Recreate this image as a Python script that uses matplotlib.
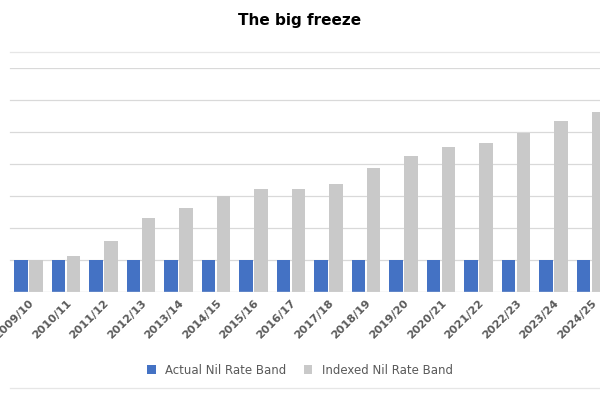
import matplotlib
matplotlib.use("Agg")
import matplotlib.pyplot as plt
import numpy as np

years = ["2009/10", "2010/11", "2011/12", "2012/13", "2013/14", "2014/15", "2015/16",
         "2016/17", "2017/18", "2018/19", "2019/20", "2020/21", "2021/22", "2022/23",
         "2023/24", "2024/25", "2025/26"]
actual = [325] * 17
indexed = [325, 366, 518, 751, 853, 975, 1046, 1046, 1097, 1259, 1381, 1473, 1513,
           1615, 1737, 1828, 1900]

blue = "#4472C4"
grey = "#C9C9C9"

fig = plt.figure(figsize=(6, 4), dpi=100)
ax = fig.add_axes([0, 0.27, 1, 0.56])
x = np.arange(len(years))
ax.bar(x - 0.2, actual, width=0.35, color=blue, label="Actual Nil Rate Band", zorder=3)
ax.bar(x + 0.2, indexed, width=0.35, color=grey, label="Indexed Nil Rate Band", zorder=3)

for v in np.arange(325, 2276, 325):
    ax.axhline(v, xmin=10 / 600, color="#D9D9D9", lw=0.9, zorder=1)
ax.axhline(0, xmin=10 / 600, color="#D9D9D9", lw=1, zorder=4)

for s in ax.spines.values():
    s.set_visible(False)
ax.set_yticks([])
ax.set_xticks(x)
ax.set_xticklabels(years, rotation=45, ha="right", rotation_mode="anchor",
                   fontsize=8, fontweight="bold", color="#595959")
ax.tick_params(axis="x", length=0, pad=4)
ax.margins(0)
ax.set_xlim(-0.76, 15.24)
ax.set_ylim(0, 2275)

fig.text(0.5, 0.95, "The big freeze", ha="center", va="center", fontsize=11,
         fontweight="bold", color="#000000")
fig.legend(loc="center", bbox_to_anchor=(0.5, 0.075), ncol=2, frameon=False,
           fontsize=8.5, handlelength=0.7, handleheight=0.7, columnspacing=1.5,
           labelcolor="#595959")
fig.add_artist(plt.Line2D([10 / 600, 1], [1 - 52 / 400] * 2, color="#E6E6E6", lw=0.9))
fig.add_artist(plt.Line2D([10 / 600, 1], [1 - 388 / 400] * 2, color="#E6E6E6", lw=0.9))
ax.set_xlim(-0.76, 15.24)
fig.savefig("out.png", dpi=100)
